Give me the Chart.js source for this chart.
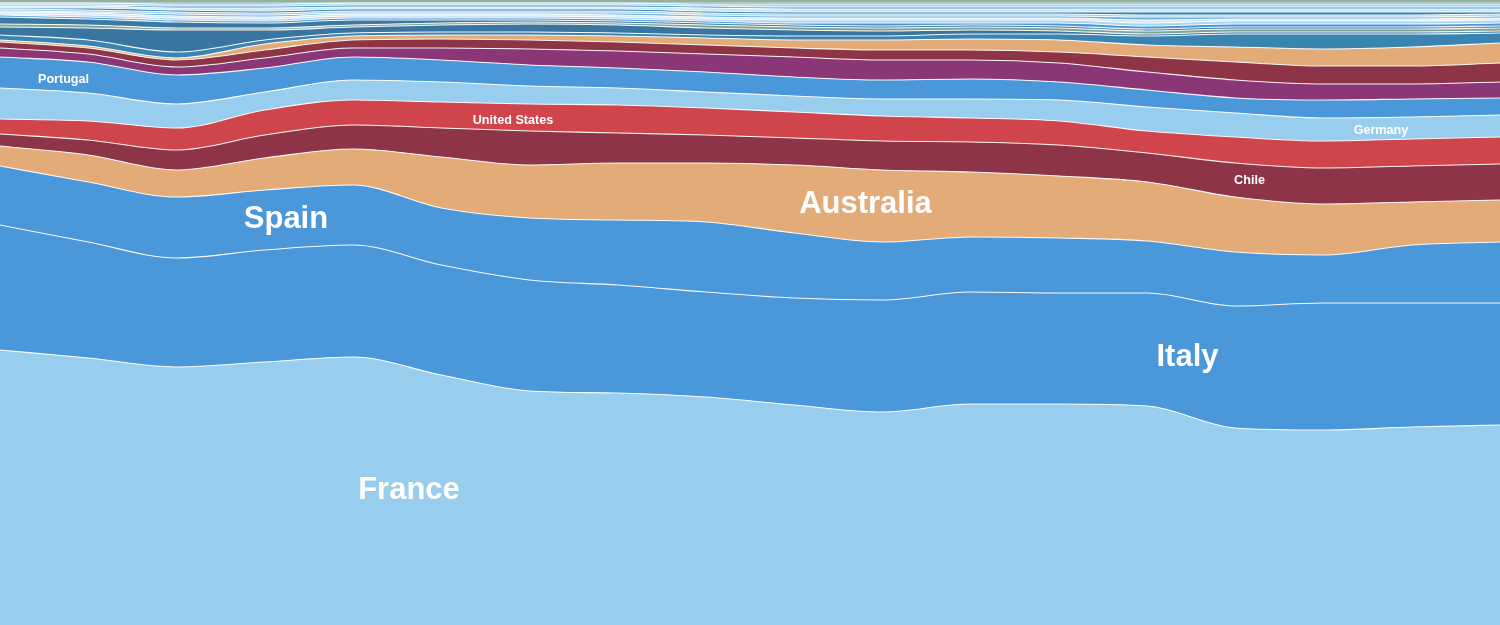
<!DOCTYPE html>
<html>
<head>
<meta charset="utf-8">
<script src="https://cdn.jsdelivr.net/npm/chart.js@4.4.1/dist/chart.umd.min.js"></script>
<style>
  html, body { margin: 0; padding: 0; background: #ffffff; overflow: hidden; }
  #wrap { width: 1500px; height: 625px; position: relative; }
</style>
</head>
<body>
<div id="wrap"><canvas id="c" width="1500" height="625"></canvas></div>
<script>
// Categories (18 time steps, unlabeled in the reference)
const categories = ['2000','2001','2002','2003','2004','2005','2006','2007','2008','2009','2010','2011','2012','2013','2014','2015','2016','2017'];

// Shares (%) per series, bottom to top
const france    = [44.0,42.72,41.28,42.08,42.88,40.0,37.44,37.12,36.48,35.2,34.08,35.36,35.36,35.04,31.52,31.2,31.68,32.0];
const italy     = [20.0,18.56,17.44,17.92,17.92,17.6,17.76,17.28,16.8,17.12,17.92,17.92,17.76,18.08,19.52,20.32,19.84,19.52];
const spain     = [9.44,9.6,9.76,9.6,9.6,9.12,9.92,10.4,11.2,10.4,9.28,8.8,8.8,8.32,8.64,7.68,9.28,9.76];
const australia = [3.2,4.32,4.32,5.12,5.76,8.16,8.48,9.12,9.44,10.88,11.52,10.4,9.92,9.44,8.8,8.16,6.88,6.72];
const chile     = [1.92,2.4,3.2,3.68,3.84,4.64,5.44,4.8,4.48,4.32,4.64,4.8,4.96,4.64,5.44,5.76,5.76,5.76];
const usa       = [2.4,3.04,3.52,4.0,4.0,4.16,4.32,4.48,4.32,4.16,4.0,3.84,3.84,3.52,4.16,4.32,4.32,4.32];
const germany   = [4.96,4.48,3.84,2.88,3.2,3.2,2.88,2.72,2.56,2.56,2.72,3.04,3.36,3.84,3.84,3.68,3.52,3.52];
const portugal  = [4.96,4.96,4.64,3.84,3.68,3.52,3.36,3.2,3.2,3.04,3.04,3.2,2.88,2.72,2.4,2.88,2.88,2.72];
const purple1   = [1.44,1.28,1.28,1.6,1.44,1.92,2.56,2.72,2.88,3.2,3.2,3.04,3.04,2.88,2.88,2.56,2.4,2.56];
const darkred2  = [0.96,0.96,1.12,1.28,1.28,1.44,1.44,1.44,1.44,1.44,1.6,1.6,1.76,2.4,2.88,2.88,2.88,3.04];
const tan2      = [0.32,0.32,0.32,0.96,0.64,0.64,0.8,0.96,1.12,1.28,1.6,1.76,1.92,1.92,2.4,2.72,3.04,3.2];
const steel1    = [0.8,0.96,0.96,0.64,0.48,0.48,0.48,0.48,0.48,0.64,0.64,0.8,0.96,1.44,2.08,2.4,2.08,1.6];
const steel2    = [1.28,1.92,3.52,1.6,0.96,1.12,1.28,1.28,1.12,0.96,0.8,0.64,0.48,0.32,0.32,0.32,0.32,0.32];
const grayGreen = [0.48,0.48,0.32,0.32,0.32,0.32,0.32,0.32,0.48,0.48,0.48,0.48,0.48,0.48,0.48,0.48,0.48,0.48];
const steel3    = [1.12,0.96,0.96,0.8,0.8,0.48,0.32,0.32,0.32,0.32,0.32,0.32,0.32,0.32,0.32,0.32,0.32,0.32];
const small1    = [0.32,0.32,0.32,0.32,0.32,0.32,0.32,0.32,0.32,0.32,0.48,0.32,0.48,0.48,0.48,0.48,0.48,0.48];
const small2    = [0.16,0.32,0.32,0.32,0.32,0.32,0.32,0.32,0.32,0.48,0.48,0.48,0.48,0.48,0.48,0.48,0.48,0.48];
const small3    = [0.32,0.32,0.32,0.32,0.32,0.32,0.32,0.32,0.32,0.32,0.32,0.32,0.32,0.48,0.32,0.32,0.32,0.32];
const small4    = [0.16,0.16,0.32,0.32,0.16,0.16,0.16,0.32,0.32,0.32,0.32,0.32,0.32,0.48,0.32,0.32,0.32,0.32];
const small5    = [0.32,0.32,0.32,0.32,0.32,0.32,0.32,0.32,0.32,0.32,0.32,0.32,0.32,0.32,0.32,0.32,0.32,0.32];
const small6    = [0.16,0.32,0.32,0.32,0.32,0.32,0.32,0.32,0.32,0.32,0.32,0.32,0.32,0.48,0.48,0.48,0.48,0.32];
const small7    = [0.32,0.32,0.32,0.48,0.32,0.32,0.32,0.32,0.48,0.48,0.48,0.48,0.48,0.48,0.48,0.48,0.48,0.48];
const small8    = [0.16,0.16,0.32,0.32,0.32,0.32,0.32,0.32,0.32,0.32,0.32,0.32,0.32,0.32,0.32,0.32,0.32,0.32];
const small9    = [0.32,0.32,0.32,0.32,0.32,0.32,0.32,0.32,0.32,0.48,0.48,0.48,0.48,0.48,0.48,0.48,0.48,0.48];
const small10   = [0.16,0.16,0.32,0.32,0.16,0.16,0.16,0.16,0.32,0.32,0.32,0.32,0.32,0.32,0.32,0.32,0.32,0.32];
const topGreen  = [0.32,0.32,0.32,0.32,0.32,0.32,0.32,0.32,0.32,0.32,0.32,0.32,0.32,0.32,0.32,0.32,0.32,0.32];

const seriesNames = ['France','Italy','Spain','Australia','Chile','United States','Germany','Portugal',
  'Series 9','Series 10','Series 11','Series 12','Series 13','Series 14','Series 15',
  'Series 16','Series 17','Series 18','Series 19','Series 20','Series 21','Series 22','Series 23','Series 24','Series 25','Series 26'];
const seriesValues = [france, italy, spain, australia, chile, usa, germany, portugal,
  purple1, darkred2, tan2, steel1, steel2, grayGreen, steel3,
  small1, small2, small3, small4, small5, small6, small7, small8, small9, small10, topGreen];
const seriesColors = ['#98cdee','#4a98da','#4a98da','#e2ab78','#8e3447','#d0454c','#98cdee','#4a98da',
  '#8a3677','#8e3447','#e2ab78','#3a84b2','#3a74a0','#7fa294','#3b78a5',
  '#4a98da','#a9d5f2','#d2e8f7','#6baee3','#98cdee','#3b7fad','#c8e3f5','#4a98da','#a9d5f2','#6a9f86','#3f6b55'];

// In-chart labels: text, category position, value position, font size
const labelTexts = ['France','Spain','Australia','Italy','United States','Chile','Germany','Portugal'];
const labelX     = [4.635, 3.241, 9.809, 13.458, 5.814, 14.161, 15.651, 0.72];
const labelY     = [21.92, 65.36, 67.68, 43.2, 80.96, 71.36, 79.36, 87.52];
const labelSize  = [31, 31, 31, 31, 12.6, 12.6, 12.6, 12.6];

const datasets = seriesValues.map((vals, i) => ({
  label: seriesNames[i],
  data: vals,
  backgroundColor: seriesColors[i],
  borderColor: 'rgba(255,255,255,0.92)',
  borderWidth: 1.1,
  fill: i === 0 ? 'origin' : '-1',
  pointRadius: 0,
  cubicInterpolationMode: 'monotone'
}));

const labelPlugin = {
  id: 'areaLabels',
  afterDatasetsDraw(chart) {
    const ctx = chart.ctx;
    const xs = chart.scales.x, ys = chart.scales.y;
    ctx.save();
    ctx.fillStyle = '#ffffff';
    ctx.textAlign = 'center';
    ctx.textBaseline = 'alphabetic';
    labelTexts.forEach((t, i) => {
      const s = labelSize[i];
      ctx.font = 'bold ' + s + 'px "Liberation Sans", Arial, Helvetica, sans-serif';
      const px = xs.getPixelForValue(labelX[i]);
      const py = ys.getPixelForValue(labelY[i]);
      ctx.fillText(t, px, py + s * 0.36);
    });
    ctx.restore();
  }
};

new Chart(document.getElementById('c'), {
  type: 'line',
  data: { labels: categories, datasets },
  options: {
    responsive: false,
    animation: false,
    layout: { padding: 0 },
    plugins: { legend: { display: false }, tooltip: { enabled: false } },
    scales: {
      x: { display: false, offset: false },
      y: { display: false, stacked: true, min: 0, max: 100 }
    },
    elements: { line: { tension: 0 } }
  },
  plugins: [labelPlugin]
});
</script>
</body>
</html>
